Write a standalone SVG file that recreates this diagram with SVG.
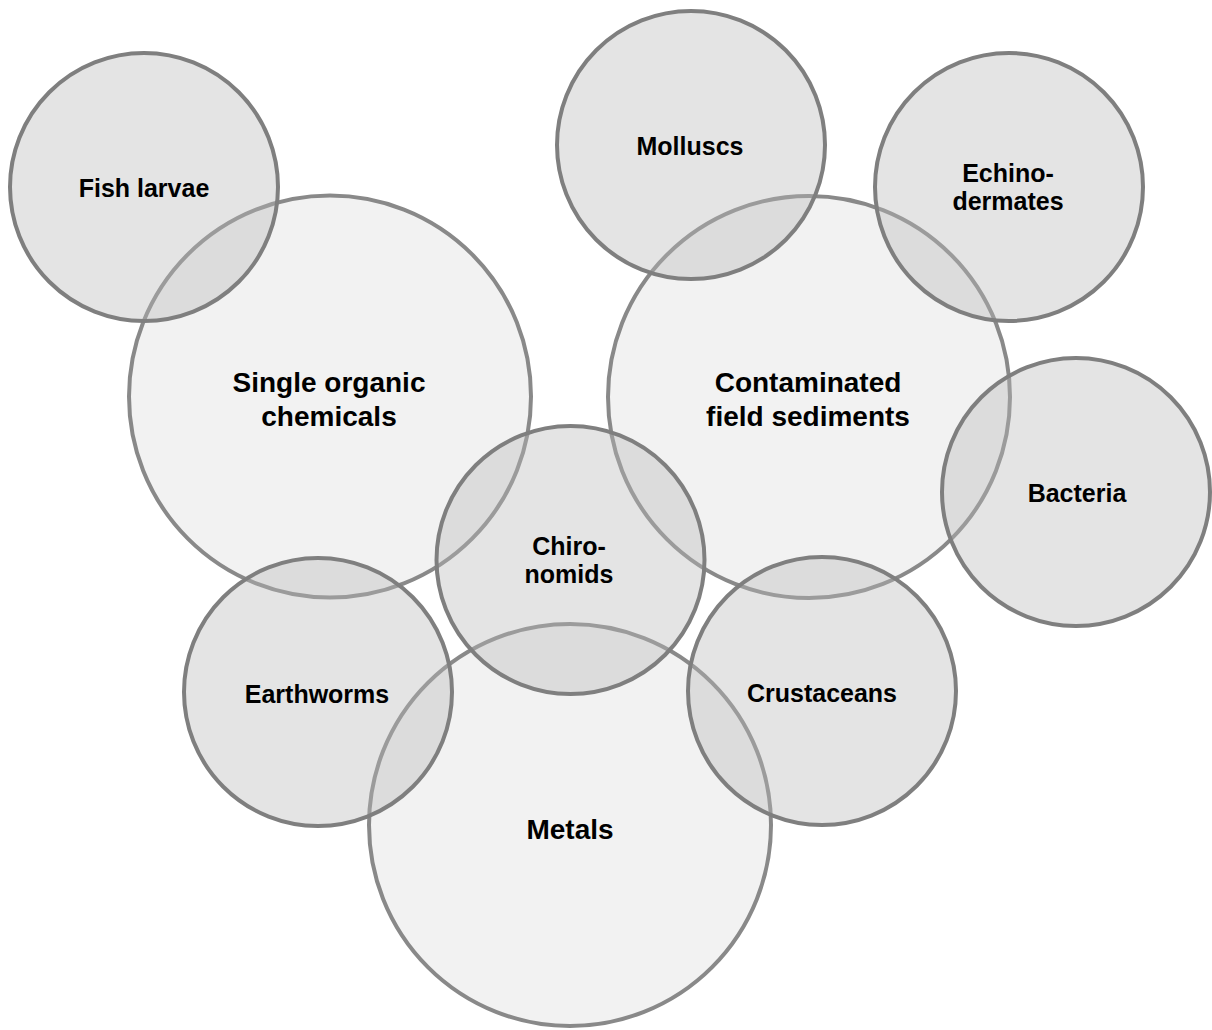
<svg xmlns="http://www.w3.org/2000/svg" width="1212" height="1030" viewBox="0 0 1212 1030">
<style>
.big{fill:#f2f2f2;stroke:#898989;stroke-width:4}
.small{fill:#b9b9b9;fill-opacity:0.385;stroke:#7f7f7f;stroke-width:4}
text{font-family:"Liberation Sans",Arial,Helvetica,sans-serif;font-weight:bold;fill:#000;text-anchor:middle}
.bt{font-size:28px}
.st{font-size:25px}
</style>
<rect width="1212" height="1030" fill="#fff"/>
<g id="connectors"/>
<g id="single-organic-chemicals"><circle class="big" cx="330" cy="396.5" r="201"/></g>
<g id="contaminated-field-sediments"><circle class="big" cx="809" cy="397" r="201"/></g>
<g id="metals"><circle class="big" cx="570" cy="825" r="201"/></g>
<g id="fish-larvae"><circle class="small" cx="144" cy="187" r="134"/><text class="st" x="144" y="197">Fish larvae</text></g>
<g id="molluscs"><circle class="small" cx="691" cy="145" r="134"/><text class="st" x="690" y="155">Molluscs</text></g>
<g id="echinodermates"><circle class="small" cx="1009" cy="187" r="134"/><text class="st" x="1008" y="182">Echino-</text><text class="st" x="1008" y="210">dermates</text></g>
<g id="bacteria"><circle class="small" cx="1076" cy="492" r="134"/><text class="st" x="1077" y="502">Bacteria</text></g>
<g id="chironomids"><circle class="small" cx="570.5" cy="560" r="134"/><text class="st" x="569" y="555">Chiro-</text><text class="st" x="569" y="583">nomids</text></g>
<g id="earthworms"><circle class="small" cx="318" cy="692" r="134"/><text class="st" x="317" y="703">Earthworms</text></g>
<g id="crustaceans"><circle class="small" cx="822" cy="691" r="134"/><text class="st" x="822" y="702">Crustaceans</text></g>
<g id="big-labels">
<text class="bt" x="329" y="392">Single organic</text><text class="bt" x="329" y="426">chemicals</text>
<text class="bt" x="808" y="392">Contaminated</text><text class="bt" x="808" y="426">field sediments</text>
<text class="bt" x="570" y="839">Metals</text>
</g>
</svg>
